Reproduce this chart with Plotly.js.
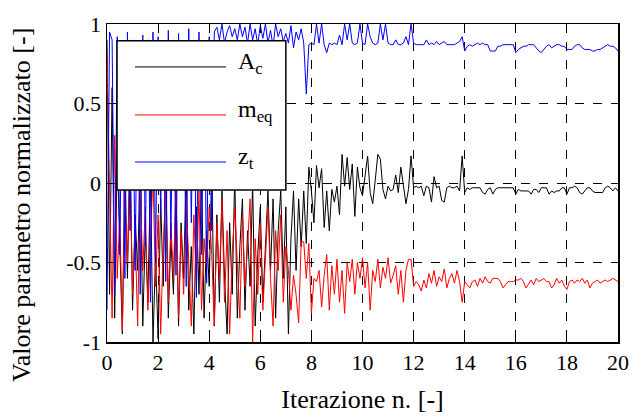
<!DOCTYPE html>
<html>
<head>
<meta charset="utf-8">
<script src="https://cdn.plot.ly/plotly-3.0.1.min.js"></script>
<style>html,body{margin:0;padding:0;background:#fff;}#chart{width:633px;height:416px;}</style>
</head>
<body>
<div id="chart"></div>
<script>
// Iteration step between stored samples
const STEP = 0.1;

const A_c = [
 0.90,-0.70,0.60,-0.85,0.20,-0.40,-0.95,0.10,-0.60,0.30,
 -0.80,-0.20,-0.55,0.15,-0.90,-0.30,-0.75,0.05,-1.00,-0.45,
 -0.98,-0.10,-0.65,0.20,-0.85,-0.35,-0.70,0.00,-0.90,-0.25,
 -0.60,0.10,-0.80,-0.40,-0.95,-0.15,-0.70,0.05,-0.85,-0.30,
 -0.65,0.10,-0.90,-0.20,-0.75,-0.05,-0.60,-0.95,-0.25,-0.70,
 0.05,-0.85,-0.40,-0.10,-0.80,-0.30,-0.65,0.00,-0.90,-0.45,
 -0.15,-0.75,-0.35,-0.05,-0.55,-0.10,-0.85,-0.30,-0.05,-0.60,
 -0.15,-0.95,-0.35,-0.05,-0.55,-0.10,-0.40,-0.05,-0.38,0.10,
 -0.05,
 -0.25,0.11,-0.03,0.09,-0.28,-0.05,-0.30,-0.04,-0.12,-0.02,
 -0.20,0.18,-0.02,0.16,-0.04,0.12,-0.21,0.10,-0.03,-0.08,
 0.05,0.17,-0.06,-0.13,0.02,0.18,0.15,-0.04,-0.10,-0.02,
 -0.05,-0.04,0.05,-0.06,0.10,-0.03,-0.13,-0.04,0.17,-0.03,
 -0.02,-0.03,-0.02,-0.08,-0.02,-0.03,-0.12,0.04,-0.03,-0.02,
 -0.11,-0.12,-0.03,-0.02,-0.03,-0.03,-0.02,-0.05,0.17,-0.06,
 -0.03,-0.04,-0.03,-0.03,-0.03,-0.03,-0.06,-0.07,-0.04,-0.03,
 -0.07,-0.04,-0.03,-0.03,-0.03,-0.03,-0.03,-0.03,-0.03,-0.07,
 -0.04,-0.05,-0.05,-0.05,-0.05,-0.07,-0.04,-0.04,-0.06,-0.03,
 -0.03,-0.03,-0.07,-0.05,-0.06,-0.05,-0.05,-0.03,-0.03,-0.07,
 -0.03,-0.03,-0.02,-0.03,-0.06,-0.07,-0.05,-0.03,-0.03,-0.05,
 -0.06,-0.06,-0.06,-0.06,-0.03,-0.02,-0.03,-0.05,-0.03,-0.05
];

const m_eq = [
 0.80,-0.10,-0.85,0.30,-0.60,-0.20,-0.93,-0.05,-0.50,0.10,
 -0.70,-0.30,-0.90,0.00,-0.55,-0.15,-0.80,-0.35,0.05,-0.65,
 -0.20,-0.95,-0.40,-0.05,-0.75,-0.25,-0.60,0.00,-0.85,-0.30,
 -0.70,-0.10,-0.50,-0.90,-0.20,-0.65,-0.05,-0.80,-0.35,-0.55,
 -0.15,-0.45,-0.90,-0.25,-0.60,-0.10,-0.75,-0.30,-0.95,-0.45,
 -0.15,-0.55,-0.85,-0.20,-0.65,-0.40,-0.10,-1.00,-0.35,-0.70,
 -0.25,-0.80,-0.45,-0.15,-0.60,-0.90,-0.30,-0.55,-0.20,-0.75,
 -0.40,-0.55,-0.80,-0.58,-0.70,-0.88,-0.37,-0.37,-0.60,-0.38,
 -0.82,
 -0.60,-0.62,-0.55,-0.78,-0.58,-0.45,-0.80,-0.52,-0.70,-0.48,
 -0.75,-0.55,-0.82,-0.50,-0.62,-0.48,-0.70,-0.50,-0.60,-0.47,
 -0.66,-0.50,-0.80,-0.55,-0.62,-0.48,-0.66,-0.53,-0.60,-0.47,
 -0.63,-0.58,-0.52,-0.70,-0.55,-0.75,-0.55,-0.48,-0.48,-0.65,
 -0.62,-0.64,-0.68,-0.61,-0.66,-0.57,-0.63,-0.55,-0.65,-0.59,
 -0.62,-0.54,-0.66,-0.60,-0.57,-0.63,-0.55,-0.62,-0.75,-0.62,
 -0.64,-0.66,-0.62,-0.61,-0.65,-0.60,-0.63,-0.59,-0.62,-0.63,
 -0.60,-0.60,-0.60,-0.62,-0.66,-0.64,-0.62,-0.62,-0.62,-0.61,
 -0.61,-0.60,-0.62,-0.66,-0.63,-0.61,-0.64,-0.60,-0.62,-0.61,
 -0.60,-0.62,-0.62,-0.66,-0.64,-0.60,-0.63,-0.61,-0.65,-0.67,
 -0.62,-0.61,-0.63,-0.61,-0.62,-0.60,-0.63,-0.61,-0.66,-0.63,
 -0.62,-0.61,-0.63,-0.62,-0.61,-0.62,-0.61,-0.60,-0.61,-0.62
];

const z_t = [
 -0.80,0.95,0.90,-0.70,0.92,-0.45,0.85,-0.60,0.95,-0.30,
 0.90,-0.55,0.88,-0.70,0.93,-0.40,0.90,-0.75,0.95,-0.50,
 0.92,-0.20,0.88,-0.62,0.96,-0.35,0.90,-0.58,0.94,0.10,
 0.86,-0.65,0.97,-0.25,0.90,-0.72,0.95,-0.45,0.88,-0.63,
 0.92,-0.30,0.95,0.98,0.90,1.00,0.88,0.95,0.99,0.92,
 0.97,0.90,1.00,0.92,0.98,0.88,1.00,0.90,0.97,0.87,
 0.99,0.91,1.00,0.88,0.96,0.86,1.00,0.92,0.97,0.89,
 0.94,0.88,0.99,0.85,0.95,0.90,0.97,0.88,0.56,0.87,
 0.88,
 0.87,1.00,0.88,1.00,0.87,0.82,0.88,0.87,0.88,0.87,
 0.93,0.87,1.00,0.90,1.00,0.88,0.87,0.88,1.00,0.88,
 0.87,1.00,0.92,0.88,0.87,0.88,1.00,0.90,1.00,0.88,
 0.87,0.87,0.90,0.87,0.87,0.88,0.92,0.87,1.00,0.88,
 0.87,0.87,0.87,0.87,0.90,0.87,0.88,0.87,0.89,0.87,
 0.88,0.89,0.87,0.87,0.87,0.87,0.88,0.89,0.92,0.83,
 0.86,0.87,0.86,0.87,0.88,0.87,0.88,0.87,0.87,0.83,
 0.83,0.83,0.86,0.86,0.87,0.87,0.87,0.87,0.87,0.82,
 0.84,0.85,0.86,0.86,0.87,0.87,0.87,0.85,0.83,0.82,
 0.84,0.86,0.87,0.85,0.86,0.87,0.87,0.86,0.86,0.84,
 0.84,0.84,0.86,0.87,0.87,0.85,0.84,0.84,0.84,0.83,
 0.83,0.84,0.84,0.85,0.86,0.87,0.86,0.86,0.85,0.83
];

const seriesNames = ['A<sub>c</sub>', 'm<sub>eq</sub>', 'z<sub>t</sub>'];
const seriesColors = ['#000000', '#ff0000', '#0000ff'];
const xTicks = [0, 2, 4, 6, 8, 10, 12, 14, 16, 18, 20];
const yTicks = [-1, -0.5, 0, 0.5, 1];
const yTickText = ['-1', '-0.5', '0', '0.5', '1'];
const xTitle = 'Iterazione n. [-]';
const yTitle = 'Valore parametro normalizzato [-]';

const iter = A_c.map((_, i) => +(i * STEP).toFixed(1));
const allSeries = [A_c, m_eq, z_t];

const traces = allSeries.map((ys, k) => ({
  x: iter, y: ys, type: 'scatter', mode: 'lines',
  name: seriesNames[k], line: {color: seriesColors[k], width: 1},
  showlegend: false, hoverinfo: 'skip'
}));

const FAM = 'Liberation Serif';

// custom legend box (paper coordinates)
const lg = {x0: 0.0196, x1: 0.350, y0: 0.478, y1: 0.947, lx0: 0.0548, lx1: 0.233, tx: 0.252, rows: [0.865, 0.714, 0.566]};
const shapes = [{type: 'rect', xref: 'paper', yref: 'paper', x0: lg.x0, x1: lg.x1, y0: lg.y0, y1: lg.y1,
  fillcolor: '#fff', line: {color: '#000', width: 1.5}, layer: 'above'}];
const annotations = [];
seriesNames.forEach((nm, k) => {
  shapes.push({type: 'line', xref: 'paper', yref: 'paper', x0: lg.lx0, x1: lg.lx1, y0: lg.rows[k], y1: lg.rows[k],
    line: {color: seriesColors[k], width: 1}, layer: 'above'});
  annotations.push({xref: 'paper', yref: 'paper', x: lg.tx, y: lg.rows[k], xanchor: 'left', yanchor: 'middle',
    text: nm, showarrow: false, font: {family: FAM, size: 24, color: '#000'}, yshift: 4});
});
// y-axis title, placed as in the reference (slightly below the axis centre)
annotations.push({xref: 'paper', yref: 'paper', x: -0.166, y: 0.431, xanchor: 'center', yanchor: 'middle',
  textangle: -90, text: yTitle, showarrow: false, font: {family: FAM, size: 26, color: '#000'}});

const layout = {
  width: 633, height: 416,
  margin: {l: 107, r: 15, t: 24, b: 74},
  paper_bgcolor: '#fff', plot_bgcolor: '#fff',
  font: {family: FAM, size: 22, color: '#000'},
  showlegend: false,
  xaxis: {
    range: [0, 20], tickvals: xTicks, ticktext: xTicks.map(String),
    ticks: 'inside', ticklen: 5, tickcolor: '#000', tickwidth: 1,
    showline: true, linecolor: '#000', linewidth: 1.5, mirror: 'ticks',
    showgrid: true, gridcolor: '#000', gridwidth: 1, griddash: 'dash', zeroline: false,
    tickfont: {family: FAM, size: 22, color: '#000'},
    title: {text: xTitle, font: {family: FAM, size: 26, color: '#000'}, standoff: 16}
  },
  yaxis: {
    range: [-1, 1], tickvals: yTicks, ticktext: yTickText,
    ticks: 'inside', ticklen: 5, tickcolor: '#000', tickwidth: 1,
    showline: true, linecolor: '#000', linewidth: 1.5, mirror: 'ticks',
    showgrid: true, gridcolor: '#000', gridwidth: 1, griddash: 'dash', zeroline: false,
    tickfont: {family: FAM, size: 22, color: '#000'}
  },
  shapes: shapes,
  annotations: annotations
};

Plotly.newPlot('chart', traces, layout, {displayModeBar: false, staticPlot: true});
</script>
</body>
</html>
